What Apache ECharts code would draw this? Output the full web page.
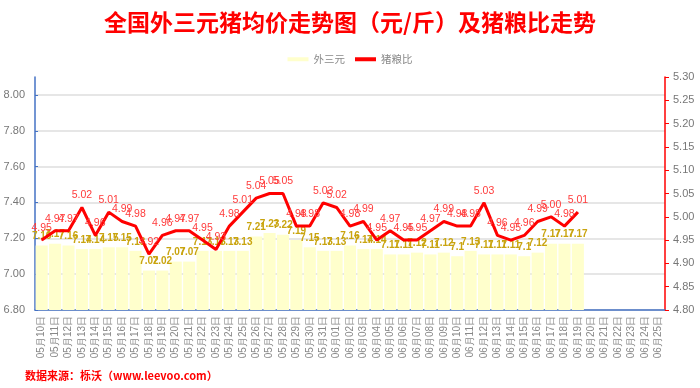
<!DOCTYPE html>
<html>
<head>
<meta charset="utf-8">
<script src="https://cdn.jsdelivr.net/npm/echarts@6/dist/echarts.min.js"></script>
<style>html,body{margin:0;padding:0;background:#fff;}#c{width:700px;height:388px;}</style>
</head>
<body>
<div id="c"></div>
<script>
const categories = (function(){
  const out = [];
  for (let d = 10; d <= 31; d++) out.push('05月' + String(d).padStart(2,'0') + '日');
  for (let d = 1; d <= 25; d++) out.push('06月' + String(d).padStart(2,'0') + '日');
  return out;
})();
const priceValues = [7.16,7.17,7.16,7.14,7.14,7.15,7.15,7.13,7.02,7.02,7.07,7.07,7.13,7.13,7.13,7.13,7.21,7.23,7.22,7.19,7.15,7.13,7.13,7.16,7.14,7.14,7.11,7.11,7.12,7.11,7.12,7.10,7.13,7.11,7.11,7.11,7.10,7.12,7.17,7.17,7.17];
const ratioValues = [4.95,4.97,4.97,5.02,4.96,5.01,4.99,4.98,4.92,4.96,4.97,4.97,4.95,4.93,4.98,5.01,5.04,5.05,5.05,4.98,4.98,5.03,5.02,4.98,4.99,4.95,4.97,4.95,4.95,4.97,4.99,4.98,4.98,5.03,4.96,4.95,4.96,4.99,5.00,4.98,5.01];
const leftTicks = {min: 6.8, max: 8.1, interval: 0.2};
const rightTicks = {min: 4.8, max: 5.3, interval: 0.05};

const chart = echarts.init(document.getElementById('c'), null, {renderer: 'canvas'});
chart.setOption({
  backgroundColor: '#fff',
  animation: false,
  title: [{
    text: '全国外三元猪均价走势图（元/斤）及猪粮比走势',
    left: 'center', top: 6,
    textStyle: {color: '#ff0000', fontSize: 23, fontWeight: 'bold', fontFamily: 'Noto Sans CJK SC'}
  }, {
    text: '数据来源：栎沃（www.leevoo.com）',
    left: 20, top: 365,
    textStyle: {color: '#ff0000', fontSize: 11, fontWeight: 'bold', fontFamily: 'Noto Sans CJK SC'}
  }],
  legend: {
    top: 49, left: 'center',
    itemWidth: 21, itemHeight: 4, itemGap: 10,
    textStyle: {color: '#888', fontSize: 10.5, fontFamily: 'Noto Sans CJK SC'},
    data: [{name: '外三元', icon: 'rect'}, {name: '猪粮比', icon: 'rect'}]
  },
  grid: {left: 35, right: 35, top: 77, bottom: 78, containLabel: false},
  xAxis: {
    type: 'category', data: categories,
    axisLine: {lineStyle: {color: '#4472c4', width: 1.5}},
    axisTick: {lineStyle: {color: '#4472c4'}, length: 4},
    axisLabel: {rotate: 90, color: '#888', fontSize: 10, margin: 6, interval: 0}
  },
  yAxis: [{
    type: 'value', min: leftTicks.min, max: leftTicks.max, interval: leftTicks.interval,
    axisLine: {show: true, lineStyle: {color: '#4472c4', width: 1.5}},
    axisTick: {show: true, inside: true, length: 3, lineStyle: {color: '#4472c4'}},
    axisLabel: {color: '#777', fontSize: 11, margin: 10, showMaxLabel: false, formatter: v => v.toFixed(2)},
    splitLine: {show: true, showMaxLine: false, lineStyle: {color: '#dedede', width: 1.5}}
  }, {
    type: 'value', min: rightTicks.min, max: rightTicks.max, interval: rightTicks.interval,
    position: 'right',
    axisLine: {show: true, lineStyle: {color: '#ff0000', width: 1.5}},
    axisTick: {show: true, length: 4, lineStyle: {color: '#ff0000'}},
    axisLabel: {color: '#777', fontSize: 11, margin: 8, formatter: v => v.toFixed(2)},
    splitLine: {show: false}
  }],
  series: [{
    name: '外三元', type: 'bar', yAxisIndex: 0,
    data: priceValues,
    barCategoryGap: '10%',
    itemStyle: {color: '#ffffcc'},
    label: {show: true, position: 'top', distance: 4, color: '#c9a40f', fontSize: 10, fontWeight: 'bold'}
  }, {
    name: '猪粮比', type: 'line', yAxisIndex: 1,
    data: ratioValues,
    symbol: 'circle', symbolSize: 1, showSymbol: true,
    itemStyle: {color: '#ff0000'},
    lineStyle: {color: '#ff0000', width: 3},
    label: {show: true, position: 'top', distance: 6, color: '#ff3b3b', fontSize: 10.5,
      formatter: p => Number(p.value).toFixed(2)}
  }]
});
</script>
</body>
</html>
